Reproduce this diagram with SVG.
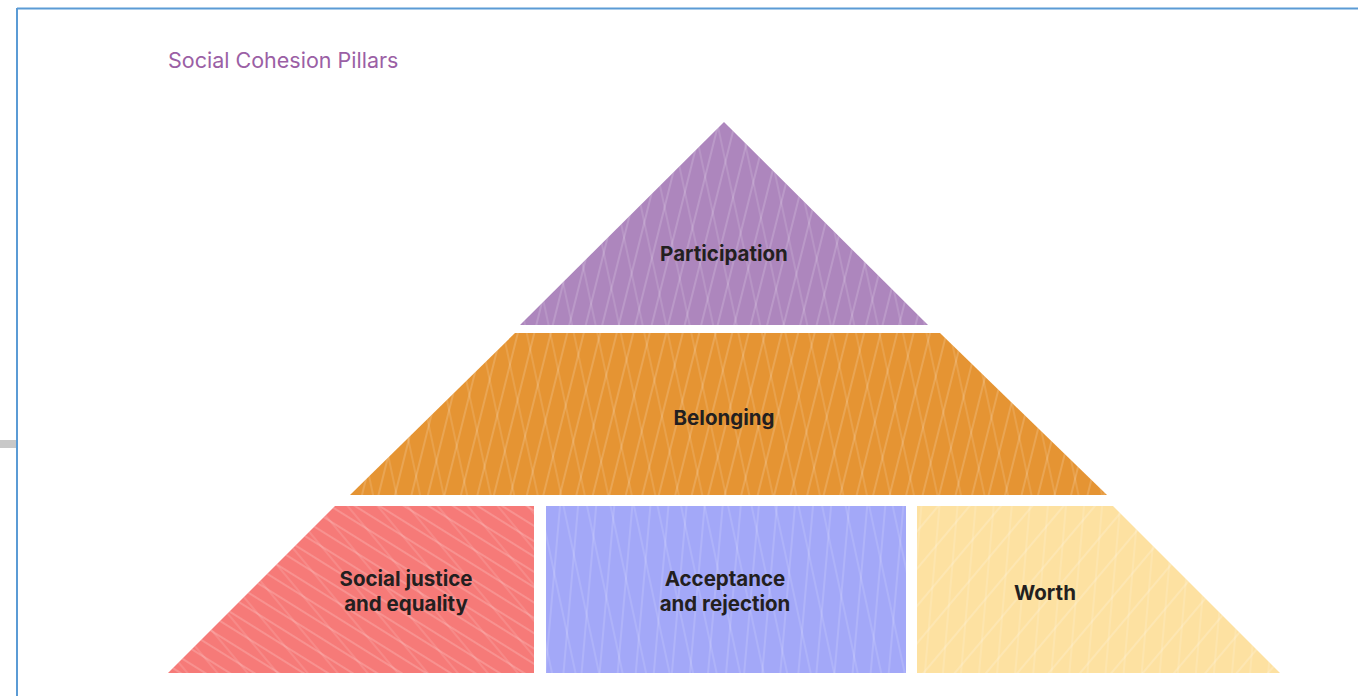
<svg xmlns="http://www.w3.org/2000/svg" width="1358" height="696" viewBox="0 0 1358 696">
  <style>
    .label { font-family: Inter, "Liberation Sans", sans-serif; font-weight: 700; font-size: 20.5px; fill: #231f20; text-anchor: middle; }
    .title { font-family: Inter, "Liberation Sans", sans-serif; font-weight: 400; font-size: 21.5px; fill: #9b5fa5; }
    .hatch { fill: none; stroke: #ffffff; stroke-width: 0.8; }
  </style>
  <defs>
    <!-- fine white line textures laid over each block -->
    <pattern id="tex-a" width="16" height="40" patternUnits="userSpaceOnUse" patternTransform="rotate(14)">
      <line class="hatch" x1="7" y1="0" x2="7" y2="40" stroke-opacity="0.4"/>
    </pattern>
    <pattern id="tex-b" width="23" height="40" patternUnits="userSpaceOnUse" patternTransform="rotate(-12)">
      <line class="hatch" x1="9" y1="0" x2="9" y2="40" stroke-opacity="0.3"/>
    </pattern>
    <pattern id="tex-c" width="13" height="40" patternUnits="userSpaceOnUse" patternTransform="rotate(-58)">
      <line class="hatch" x1="6" y1="0" x2="6" y2="40" stroke-opacity="0.45"/>
    </pattern>
    <pattern id="tex-d" width="23" height="40" patternUnits="userSpaceOnUse" patternTransform="rotate(-40)">
      <line class="hatch" x1="10" y1="0" x2="10" y2="40" stroke-opacity="0.3"/>
    </pattern>
    <pattern id="tex-e" width="24" height="40" patternUnits="userSpaceOnUse" patternTransform="rotate(40)">
      <line class="hatch" x1="12" y1="0" x2="12" y2="40" stroke-opacity="0.45"/>
    </pattern>
    <pattern id="tex-f" width="18" height="40" patternUnits="userSpaceOnUse" patternTransform="rotate(5)">
      <line class="hatch" x1="8" y1="0" x2="8" y2="40" stroke-opacity="0.35"/>
    </pattern>
  </defs>

  <rect width="1358" height="696" fill="#ffffff"/>

  <!-- frame -->
  <rect x="0" y="440" width="16" height="8" fill="#c8c8c8"/>
  <line x1="17" y1="8.5" x2="1358" y2="8.5" stroke="#5b9bd5" stroke-width="2"/>
  <line x1="17" y1="8" x2="17" y2="696" stroke="#5b9bd5" stroke-width="2"/>

  <text class="title" x="168" y="68">Social Cohesion Pillars</text>

  <g id="participation">
    <polygon points="724,122 928,325 520,325" fill="#ad86bd"/>
    <polygon points="724,122 928,325 520,325" fill="url(#tex-a)"/>
    <polygon points="724,122 928,325 520,325" fill="url(#tex-b)"/>
    <text class="label" x="724" y="261">Participation</text>
  </g>

  <g id="belonging">
    <polygon points="515,333 940,333 1107,495 350,495" fill="#e59433"/>
    <polygon points="515,333 940,333 1107,495 350,495" fill="url(#tex-a)"/>
    <polygon points="515,333 940,333 1107,495 350,495" fill="url(#tex-b)"/>
    <text class="label" x="724" y="425">Belonging</text>
  </g>

  <g id="social-justice">
    <polygon points="335,506 534,506 534,673 168,673" fill="#f67a78"/>
    <polygon points="335,506 534,506 534,673 168,673" fill="url(#tex-c)"/>
    <polygon points="335,506 534,506 534,673 168,673" fill="url(#tex-d)"/>
    <text class="label" x="406" y="586">Social justice</text>
    <text class="label" x="406" y="611">and equality</text>
  </g>

  <g id="acceptance">
    <rect x="546" y="506" width="360" height="167" fill="#a3a8f8"/>
    <rect x="546" y="506" width="360" height="167" fill="url(#tex-f)"/>
    <rect x="546" y="506" width="360" height="167" fill="url(#tex-b)"/>
    <text class="label" x="725" y="586">Acceptance</text>
    <text class="label" x="725" y="611">and rejection</text>
  </g>

  <g id="worth">
    <polygon points="917,506 1113,506 1280,673 917,673" fill="#fde1a1"/>
    <polygon points="917,506 1113,506 1280,673 917,673" fill="url(#tex-e)"/>
    <polygon points="917,506 1113,506 1280,673 917,673" fill="url(#tex-f)"/>
    <text class="label" x="1045" y="600">Worth</text>
  </g>
</svg>
